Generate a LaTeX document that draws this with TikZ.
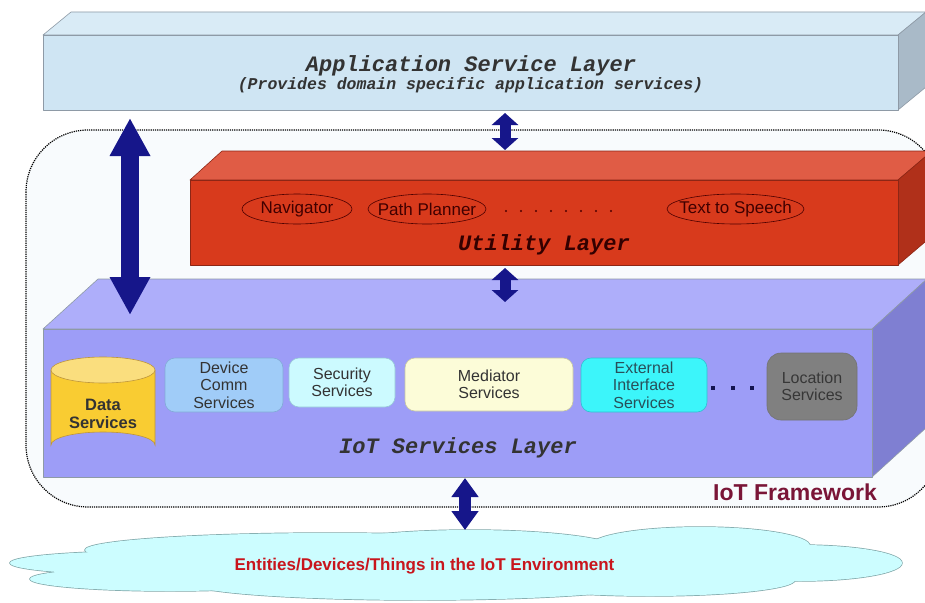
\documentclass[tikz,border=0pt]{standalone}
\usepackage{fontspec}
\setmainfont{Liberation Sans}
\setmonofont{Liberation Mono}
\usetikzlibrary{arrows.meta,shapes.geometric}
\definecolor{appfront}{HTML}{CFE5F3}
\definecolor{apptop}{HTML}{D9EBF6}
\definecolor{appside}{HTML}{A9BAC8}
\definecolor{redfront}{HTML}{D83A1C}
\definecolor{redtop}{HTML}{E05C45}
\definecolor{redside}{HTML}{B0301A}
\definecolor{iotfront}{HTML}{9D9DF7}
\definecolor{iottop}{HTML}{AEAEFA}
\definecolor{iotside}{HTML}{7F7FD2}
\definecolor{edge}{HTML}{8E9AA6}
\definecolor{navy}{HTML}{16168A}
\definecolor{fwfill}{HTML}{F8FBFD}
\definecolor{maroon}{HTML}{7A1537}
\definecolor{cloudfill}{HTML}{CCFDFF}
\definecolor{cloudline}{HTML}{7FA6A8}
\definecolor{entred}{HTML}{C8161D}
\definecolor{txt}{HTML}{333333}
\definecolor{cylbody}{HTML}{F9CC32}
\definecolor{cyltop}{HTML}{FADE7E}
\definecolor{cylline}{HTML}{BE963C}
\definecolor{devfill}{HTML}{A0CCF8}
\definecolor{devline}{HTML}{82AAD7}
\definecolor{secfill}{HTML}{CCFAFF}
\definecolor{secline}{HTML}{96C8D7}
\definecolor{medfill}{HTML}{FCFCD8}
\definecolor{medline}{HTML}{C8C8A0}
\definecolor{extfill}{HTML}{3CF5FA}
\definecolor{extline}{HTML}{32BED2}
\definecolor{exttext}{HTML}{28505A}
\definecolor{locfill}{HTML}{808080}
\definecolor{locline}{HTML}{737373}
\definecolor{loctext}{HTML}{373737}
\definecolor{dotnavy}{HTML}{141450}
\begin{document}
\begin{tikzpicture}[x=1pt,y=-1pt,
  face/.style={draw=edge,line width=0.6pt,line join=round},
  monolabel/.style={font=\ttfamily\bfseries\itshape\fontsize{22}{24}\selectfont,text=txt,inner sep=0pt},
  elltext/.style={inner sep=0pt,font=\fontsize{17}{19}\selectfont,text=black!75!red},
  ellline/.style={draw=black!70!red,line width=0.6pt},
  svcbox/.style={rectangle,rounded corners=10pt,line width=0.6pt,inner sep=0pt,align=center,
     font=\fontsize{16}{17.3}\selectfont,text=txt},
  bigarrow/.style={navy,line width=18pt,{Triangle[length=38pt,width=38pt]}-{Triangle[length=38pt,width=38pt]}},
  smallarrow/.style={navy,line width=11pt,{Triangle[length=12pt,width=26pt]}-{Triangle[length=12pt,width=26pt]}},
  midarrow/.style={navy,line width=12pt,{Triangle[length=19pt,width=26pt]}-{Triangle[length=19pt,width=26pt]}},
  cloudpart/.style={draw=cloudline,line width=1.4pt},
  cloudfillpart/.style={fill=cloudfill}
]
\useasboundingbox (0,0) rectangle (925,602);
\fill[white] (0,0) rectangle (925,602);

% IoT framework region
\draw[fill=fwfill,draw=black,densely dotted,line width=1.2pt,rounded corners=62pt]
  (26,130) rectangle (940,507);
\node[font=\bfseries\fontsize{23}{25}\selectfont,text=maroon,anchor=base east,inner sep=0pt] (fw) at (877,500) {IoT Framework};

% Application service layer
\draw[face,fill=apptop] (43,35) -- (71,12) -- (926,12) -- (898,35) -- cycle;
\draw[face,fill=appside] (898,35) -- (926,12) -- (926,87) -- (898,110) -- cycle;
\draw[face,fill=appfront] (43,35) rectangle (898,110);
\node[monolabel,anchor=base] (apptitle) at (471,71) {Application Service Layer};
\node[font=\ttfamily\bfseries\itshape\fontsize{16.5}{18}\selectfont,text=txt,inner sep=0pt,anchor=base] (appsub) at (470.5,89) {(Provides domain specific application services)};
\coordinate (appL) at (130,118);
\coordinate (appM) at (505,113);

% Utility layer
\draw[face,draw=redside!80!black,fill=redtop] (190,180) -- (222,151) -- (932,151) -- (898,180) -- cycle;
\draw[face,draw=redside!80!black,fill=redside] (898,180) -- (932,151) -- (932,236) -- (898,265) -- cycle;
\draw[face,draw=redside!80!black,fill=redfront] (190,180) rectangle (898,265);
\node[elltext] (nav) at (297,209) {Navigator};
\draw[ellline] (nav.center) ellipse[x radius=55,y radius=15];
\node[elltext] (pp) at (427,209) {Path Planner};
\draw[ellline] (pp.center) ellipse[x radius=59,y radius=15];
\node[elltext] (tts) at (735.5,209) {Text to Speech};
\draw[ellline] (tts.center) ellipse[x radius=68.5,y radius=15];
\foreach \i in {0,...,7} \fill[black!70!red] (506+15*\i,211) circle (1.1pt);
\node[monolabel,anchor=base,text=black!80!red] (utl) at (544,250) {Utility Layer};
\coordinate (utlTop) at (505,150);
\coordinate (utlBot) at (505,268);

% IoT services layer
\draw[face,fill=iottop] (43,329) -- (98,279) -- (927,279) -- (872,329) -- cycle;
\draw[face,fill=iotside] (872,329) -- (927,279) -- (927,427) -- (872,477) -- cycle;
\draw[face,fill=iotfront] (43,329) rectangle (872,477);
\coordinate (iotTop) at (505,302);
\coordinate (iotL) at (130,315);
\coordinate (iotBot) at (465,478);

% Data services cylinder
\fill[cylbody] (51,370) -- (51,445) arc[start angle=180,end angle=360,x radius=52,y radius=13] -- (155,370) -- cycle;
\draw[cylline,line width=0.6pt] (51,370) -- (51,445) arc[start angle=180,end angle=360,x radius=52,y radius=13] -- (155,370);
\draw[fill=cyltop,draw=cylline,line width=0.6pt] (103,370) ellipse[x radius=52,y radius=13];
\node[font=\bfseries\fontsize{16.5}{17.3}\selectfont,text=txt,align=center,inner sep=0pt] (data) at (103,414) {Data\\Services};

\node[svcbox,fill=devfill,draw=devline,minimum width=118pt,minimum height=54pt] (dev) at (224,385) {Device\\Comm\\Services};
\node[svcbox,fill=secfill,draw=secline,minimum width=106pt,minimum height=49pt] (sec) at (342,382.5) {Security\\Services};
\node[svcbox,fill=medfill,draw=medline,minimum width=168pt,minimum height=53pt] (med) at (489,384.5) {Mediator\\Services};
\node[svcbox,fill=extfill,draw=extline,minimum width=126pt,minimum height=54pt,text=exttext] (ext) at (644,385) {External\\Interface\\Services};
\foreach \x in {713,733,752} \fill[dotnavy] (\x-2.2,385.8) rectangle (\x+2.2,390.2);
\node[svcbox,rounded corners=14pt,fill=locfill,draw=locline,minimum width=90pt,minimum height=67pt,text=loctext] (loc) at (812,386.5) {Location\\Services};
\node[monolabel,anchor=base] (iotl) at (458,453) {IoT Services Layer};

% Cloud
\def\cloudlobes{150/563/140/12, 170/579/140/12, 330/550/245/17, 470/550/150/20, 700/546/110/19,
  800/563/102/18, 650/580/145/16, 420/583/230/17, 470/565/300/28}
\foreach \cx/\cy/\rx/\ry in \cloudlobes \draw[cloudpart] (\cx,\cy) ellipse[x radius=\rx,y radius=\ry];
\foreach \cx/\cy/\rx/\ry in \cloudlobes \fill[cloudfillpart] (\cx,\cy) ellipse[x radius=\rx,y radius=\ry];
\node[font=\bfseries\fontsize{17}{19}\selectfont,text=entred,anchor=base,inner sep=0pt] (env) at (424.5,570) {Entities/Devices/Things in the IoT Environment};
\coordinate (cloudTop) at (465,530);

% Arrows
\draw[bigarrow] (appL) -- (iotL);
\draw[smallarrow] (appM) -- (utlTop);
\draw[smallarrow] (utlBot) -- (iotTop);
\draw[midarrow] (iotBot) -- (cloudTop);
\end{tikzpicture}
\end{document}
